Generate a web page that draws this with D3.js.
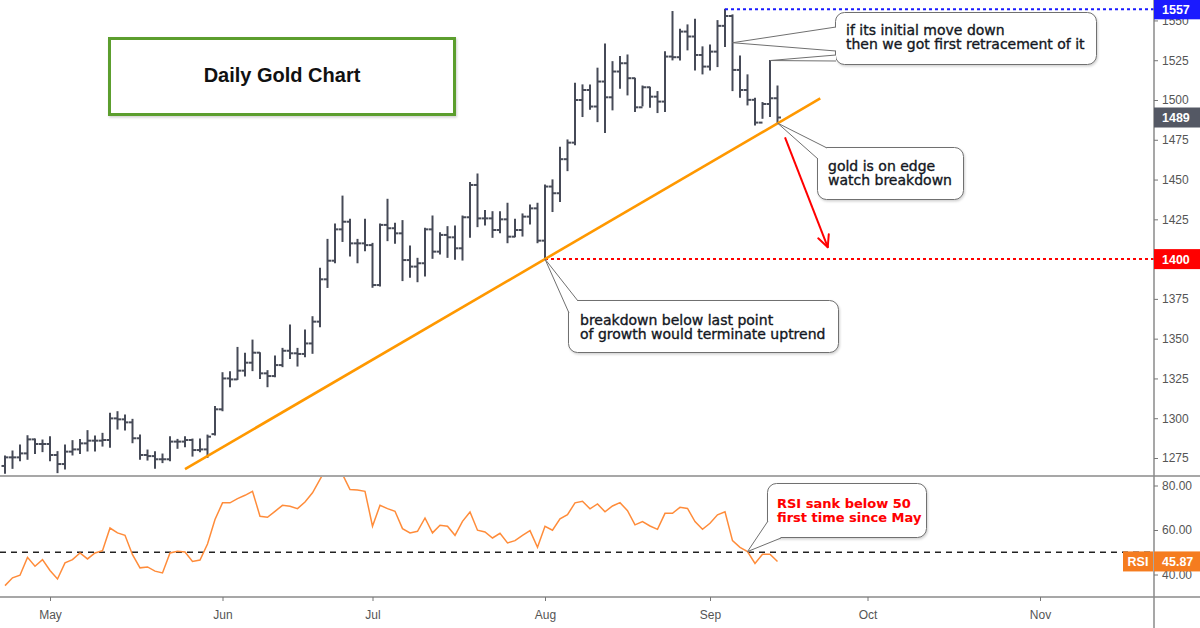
<!DOCTYPE html>
<html><head><meta charset="utf-8">
<script src="https://cdn.jsdelivr.net/npm/d3@7"></script>
<style>body{margin:0;background:#fff}svg{display:block}</style>
</head><body>
<svg id="c" width="1200" height="628"></svg>
<script>
// ---------- DATA ----------
const startDate = "2019-04-23"; // first trading day shown (weekdays)
const highs = [1276.2,1279.4,1283.2,1289.0,1286.9,1286.3,1288.4,1279.0,1283.2,1285.9,
1286.7,1292.2,1288.8,1290.5,1303.1,1304.1,1302.0,1299.3,1289.4,1280.0,
1279.0,1277.5,1288.4,1286.7,1288.4,1286.9,1286.9,1289.4,1307.3,1328.6,
1329.2,1344.5,1340.8,1349.1,1341.2,1329.9,1339.1,1343.9,1358.6,1343.9,
1355.4,1363.8,1394.2,1412.4,1422.0,1439.6,1425.0,1412.4,1425.0,1409.9,
1422.1,1437.6,1422.5,1424.2,1408.3,1400.5,1419.4,1427.1,1416.6,1420.4,
1420.8,1427.1,1448.1,1453.5,1430.5,1429.8,1429.8,1435.1,1425.0,1428.4,
1434.0,1435.1,1446.6,1449.8,1470.3,1474.9,1510.5,1509.5,1509.5,1520.0,
1535.2,1524.1,1527.3,1528.3,1513.7,1508.8,1508.0,1505.3,1530.4,1555.6,
1544.5,1547.2,1550.7,1533.4,1534.6,1549.9,1557.0,1553.5,1527.7,1515.8,
1501.1,1498.4,1524.8,1508.8];
const lows = [1265.4,1268.5,1273.3,1274.2,1277.9,1279.0,1273.3,1265.8,1268.1,1276.9,
1277.9,1279.4,1279.4,1282.5,1281.7,1293.2,1292.6,1284.6,1274.2,1273.7,
1268.5,1272.1,1273.3,1281.1,1282.1,1276.2,1279.0,1275.4,1289.4,1304.7,
1319.8,1324.4,1326.5,1329.9,1325.0,1319.8,1326.1,1332.4,1337.6,1332.8,
1338.7,1340.8,1357.5,1382.2,1397.7,1411.1,1402.0,1397.7,1405.3,1382.3,
1383.1,1411.6,1409.9,1386.5,1388.6,1385.8,1389.4,1400.5,1403.2,1401.1,
1399.9,1399.4,1413.7,1420.4,1421.5,1413.7,1416.6,1410.3,1414.1,1414.5,
1422.1,1410.3,1400.0,1429.9,1436.2,1455.6,1471.8,1489.6,1494.2,1486.4,
1479.5,1493.8,1507.4,1503.2,1492.7,1496.3,1495.4,1492.1,1492.7,1525.2,
1525.2,1531.5,1518.9,1516.4,1518.9,1521.0,1533.6,1505.9,1501.7,1496.9,
1484.3,1488.5,1489.6,1485.8];
const closes = [1275.4,1275.4,1277.9,1286.7,1283.8,1283.8,1276.9,1271.2,1279.0,1280.4,
1284.2,1285.9,1285.9,1286.3,1299.9,1299.3,1297.4,1287.4,1276.9,1276.2,
1274.2,1274.2,1285.3,1285.3,1286.3,1280.0,1280.4,1288.4,1305.6,1325.0,
1324.4,1329.9,1334.9,1341.2,1328.2,1326.5,1333.4,1342.4,1340.8,1340.4,
1347.0,1360.7,1387.3,1399.0,1418.7,1423.5,1409.9,1409.9,1408.8,1383.7,
1421.5,1419.4,1416.2,1399.4,1395.3,1397.4,1418.7,1404.7,1415.2,1413.7,
1406.8,1426.3,1446.6,1425.6,1425.6,1418.3,1425.0,1414.1,1418.3,1426.7,
1431.9,1411.6,1445.6,1441.4,1462.8,1473.2,1500.0,1506.3,1495.9,1511.6,
1501.7,1517.9,1523.1,1513.7,1495.4,1508.0,1502.1,1499.0,1527.3,1526.9,
1543.0,1539.9,1528.3,1521.0,1530.4,1546.6,1552.8,1518.9,1506.3,1500.1,
1485.8,1497.5,1501.1,1489.0];
const opens = [1270.0,1275.4,1275.4,1277.9,1286.7,1283.8,1283.8,1276.9,1271.2,1279.0,
1280.4,1284.2,1285.9,1285.9,1286.3,1299.9,1299.3,1297.4,1287.4,1276.9,
1276.2,1274.2,1274.2,1285.3,1285.3,1286.3,1280.0,1280.4,1290.0,1305.6,
1325.0,1324.4,1329.9,1334.9,1341.2,1328.2,1326.5,1333.4,1342.4,1340.8,
1340.4,1347.0,1360.7,1387.3,1399.0,1418.7,1423.5,1409.9,1409.9,1408.8,
1383.7,1421.5,1419.4,1416.2,1399.4,1395.3,1397.4,1418.7,1404.7,1415.2,
1413.7,1406.8,1426.3,1446.6,1425.6,1425.6,1418.3,1425.0,1414.1,1418.3,
1426.7,1431.9,1411.6,1445.6,1441.4,1462.8,1473.2,1500.0,1506.3,1495.9,
1511.6,1501.7,1517.9,1523.1,1513.7,1495.4,1508.0,1502.1,1499.0,1527.3,
1526.9,1543.0,1539.9,1528.3,1521.0,1530.4,1546.6,1552.8,1518.9,1506.3,
1500.1,1485.8,1497.5,1501.1];
const rsi = [35.0,38.5,39.7,47.7,43.7,46.7,41.8,38.0,45.2,46.7,
49.7,47.0,49.7,50.7,60.9,58.7,57.6,48.9,43.0,43.4,
41.5,40.7,49.7,50.4,50.1,45.9,46.5,53.7,64.7,72.2,
72.2,74.1,75.6,77.4,66.2,65.7,68.4,71.1,70.7,69.6,
72.6,76.7,82.7,89.0,88.0,85.0,78.2,78.0,77.4,61.7,
71.1,69.6,68.4,60.6,58.7,59.4,65.4,58.7,62.1,61.7,
57.6,63.9,68.1,59.9,59.1,56.4,58.5,54.2,55.2,57.6,
59.7,52.2,61.7,59.9,65.0,66.9,72.2,72.9,69.5,71.7,
68.2,70.8,72.3,68.7,62.3,63.8,61.8,60.3,67.5,67.5,
70.2,69.7,63.8,60.3,63.0,66.8,68.2,55.2,52.2,50.3,
45.0,49.1,49.1,45.87];
const priceTicks = [1275,1300,1325,1350,1375,1400,1425,1450,1475,1500,1525,1550];
const rsiTicks = [40,60,80];
const monthLabels = ["May","Jun","Jul","Aug","Sep","Oct","Nov"];
const trendLine = [[24,1268],[108.7,1501]];      // [bar index, price]
const arrowLine = [[104,1476.5],[109.7,1407.5]];
const levelLow = 1400, levelLowStart = 72;
const levelHigh = 1557, levelHighStart = 96;
const lastClose = 1489, lastRsi = 45.87, rsiMid = 50;
const titleText = "Daily Gold Chart";
const notes = [
  {lines:["if its initial move down","then we got first retracement of it"]},
  {lines:["gold is on edge","watch breakdown"]},
  {lines:["breakdown below last point","of growth would terminate uptrend"]},
  {lines:["RSI sank below 50","first time since May"]}
];

// ---------- SCALES ----------
const svg = d3.select("#c");
const AX = 1154, PTOP = 0, PBOT = 476, RTOP = 476, RBOT = 597;
const x = d3.scaleLinear().domain([0,153]).range([5, 5+7.5*153]);
const y = d3.scaleLinear().domain([1275,1500]).range([458,100]);
const yr = d3.scaleLinear().domain([40,80]).range([574.5,485.5]);

// trading days
const parse = d3.timeParse("%Y-%m-%d");
const days = d3.timeDays(parse(startDate), parse("2019-11-30")).filter(d=>d.getDay()!==0 && d.getDay()!==6);
const monthIdx = [];
days.forEach((d,i)=>{ if(i>0 && d.getMonth()!==days[i-1].getMonth()) monthIdx.push(i); });

const defs = svg.append("defs");
defs.append("clipPath").attr("id","cp").append("rect").attr("x",0).attr("y",PTOP).attr("width",AX).attr("height",PBOT-PTOP);
defs.append("clipPath").attr("id","cr").append("rect").attr("x",0).attr("y",RTOP+1).attr("width",AX).attr("height",RBOT-RTOP-1);
const sh = defs.append("filter").attr("id","sh").attr("x","-10%").attr("y","-10%").attr("width","130%").attr("height","140%");
sh.append("feDropShadow").attr("dx",1).attr("dy",1.5).attr("stdDeviation",1.2).attr("flood-color","#000").attr("flood-opacity",0.18);

const font = "'DejaVu Sans', Verdana, sans-serif";
const axFont = "'Liberation Sans', Arial, sans-serif";

// ---------- PRICE PANEL ----------
const gp = svg.append("g").attr("clip-path","url(#cp)");
const barColor = "#464a57";
const bars = gp.append("g").attr("stroke",barColor).attr("stroke-width",2);
highs.forEach((h,i)=>{
  const xi = x(i);
  bars.append("line").attr("x1",xi).attr("x2",xi).attr("y1",y(h)-0.5).attr("y2",y(lows[i])+0.5);
  bars.append("line").attr("x1",xi-3.5).attr("x2",xi).attr("y1",y(opens[i])).attr("y2",y(opens[i]));
  bars.append("line").attr("x1",xi).attr("x2",xi+3.5).attr("y1",y(closes[i])).attr("y2",y(closes[i]));
});

// level lines
gp.append("line").attr("x1",x(levelLowStart)).attr("x2",AX).attr("y1",y(levelLow)).attr("y2",y(levelLow))
  .attr("stroke","#ff0000").attr("stroke-width",2).attr("stroke-dasharray","3,3");
gp.append("line").attr("x1",x(levelHighStart)).attr("x2",AX).attr("y1",y(levelHigh)).attr("y2",y(levelHigh))
  .attr("stroke","#1a1aff").attr("stroke-width",2).attr("stroke-dasharray","3,3");

// trend line
gp.append("path").datum(trendLine).attr("d",d3.line().x(d=>x(d[0])).y(d=>y(d[1])))
  .attr("stroke","#ff9800").attr("stroke-width",2.6).attr("fill","none");

// red arrow
const a0 = [x(arrowLine[0][0]), y(arrowLine[0][1])], a1 = [x(arrowLine[1][0]), y(arrowLine[1][1])];
gp.append("line").attr("x1",a0[0]).attr("y1",a0[1]).attr("x2",a1[0]).attr("y2",a1[1]).attr("stroke","#ff0000").attr("stroke-width",2);
const ang = Math.atan2(a1[1]-a0[1], a1[0]-a0[0]);
[0.45,-0.45].forEach(da=>{
  gp.append("line").attr("x1",a1[0]).attr("y1",a1[1])
    .attr("x2",a1[0]-13*Math.cos(ang+da)).attr("y2",a1[1]-13*Math.sin(ang+da))
    .attr("stroke","#ff0000").attr("stroke-width",2).attr("stroke-linecap","round");
});

// ---------- RSI PANEL ----------
const gr = svg.append("g").attr("clip-path","url(#cr)");
gr.append("line").attr("x1",0).attr("x2",AX).attr("y1",yr(rsiMid)).attr("y2",yr(rsiMid))
  .attr("stroke","#222").attr("stroke-width",1.5).attr("stroke-dasharray","6,5");
gr.append("path").datum(rsi).attr("d",d3.line().x((d,i)=>x(i)).y(d=>yr(d)))
  .attr("stroke","#ff8c3a").attr("stroke-width",1.5).attr("fill","none");

// ---------- FRAME ----------
svg.append("line").attr("x1",0).attr("x2",1200).attr("y1",PBOT).attr("y2",PBOT).attr("stroke","#8a8a8a").attr("stroke-width",1.5);
svg.append("line").attr("x1",0).attr("x2",1200).attr("y1",RBOT).attr("y2",RBOT).attr("stroke","#8a8a8a").attr("stroke-width",1.5);
svg.append("line").attr("x1",AX).attr("x2",AX).attr("y1",0).attr("y2",628).attr("stroke","#8a8a8a").attr("stroke-width",1.5);

function styleAxis(g){
  g.select(".domain").remove();
  g.selectAll(".tick line").attr("stroke","#777");
  g.selectAll(".tick text").attr("fill","#555").attr("font-family",axFont).attr("font-size",12);
}
svg.append("g").attr("transform",`translate(${AX},0)`)
  .call(d3.axisRight(y).tickValues(priceTicks).tickSize(4).tickPadding(4).tickFormat(d3.format("d"))).call(styleAxis);
svg.append("g").attr("transform",`translate(${AX},0)`)
  .call(d3.axisRight(yr).tickValues(rsiTicks).tickSize(4).tickPadding(4).tickFormat(d3.format(".2f"))).call(styleAxis);
svg.append("g").attr("transform",`translate(0,${RBOT})`)
  .call(d3.axisBottom(x).tickValues(monthIdx.slice(0,monthLabels.length)).tickSize(4).tickPadding(9).tickFormat((d,i)=>monthLabels[i])).call(styleAxis);

// right-side labels
function tag(yv, fill, text, x0=AX, w=1200-AX){
  svg.append("rect").attr("x",x0).attr("y",yv-10).attr("width",w).attr("height",20).attr("fill",fill);
  svg.append("text").attr("x",x0+ (x0===AX?8:w/2)).attr("y",yv+4.5).attr("fill","#fff")
    .attr("font-family",axFont).attr("font-size",12.5).attr("font-weight","bold")
    .attr("text-anchor", x0===AX?"start":"middle").text(text);
}
tag(y(levelHigh), "#1a1aff", String(levelHigh));
tag(y(lastClose), "#545864", String(lastClose));
tag(y(levelLow), "#ff0000", String(levelLow));
tag(yr(lastRsi), "#f57c1f", lastRsi.toFixed(2));
tag(yr(lastRsi), "#f57c1f", "RSI", 1123, 30);

// ---------- TITLE ----------
svg.append("rect").attr("x",109.5).attr("y",38.5).attr("width",345).attr("height",76)
  .attr("fill","#fff").attr("stroke","#5c9e2e").attr("stroke-width",3).attr("filter","url(#sh)");
svg.append("text").attr("x",282).attr("y",82).attr("text-anchor","middle")
  .attr("font-family",axFont).attr("font-weight","bold").attr("font-size",20).attr("fill","#111").text(titleText);

// ---------- CALLOUTS ----------
function callout(box, wedges, lines, opt){
  const g = svg.append("g");
  g.append("rect").attr("x",box[0]+0.5).attr("y",box[1]+0.5).attr("width",box[2]).attr("height",box[3])
    .attr("rx",9).attr("fill","#fff").attr("stroke","#707070").attr("stroke-width",1).attr("filter","url(#sh)");
  wedges.forEach(w=>{
    g.append("path").attr("d",d3.line()(w)).attr("fill","#fff").attr("stroke","none");
    g.append("path").attr("d",d3.line()(w)).attr("fill","none").attr("stroke","#707070").attr("stroke-width",1);
  });
  const c = opt.color||"#131722";
  lines.forEach((t,i)=>{
    g.append("text").attr("x",opt.tx).attr("y",opt.ty+i*opt.lh).attr("font-family",font)
      .attr("font-size",opt.fs).attr("font-weight",opt.fw||"normal").attr("fill",c)
      .attr("stroke",c).attr("stroke-width",opt.sw||0.35).text(t);
  });
}
const p1 = [x(97), y(1536)], p2 = [x(102), y(1524.8)], p3 = [x(103), y(1485.5)], p4 = [x(72), y(1400)], p5 = [x(99), yr(50.3)];
callout([835,12,261,52], [[[836,27],p1,[836,51]],[[836,55],p2,[836,61]]], notes[0].lines, {tx:846,ty:35,lh:14,fs:14});
callout([817,147,146,52], [[[827,148],p3,[818,159]]], notes[1].lines, {tx:828,ty:171,lh:14,fs:14});
callout([568,300,270,52], [[[578,301],p4,[569,313]]], notes[2].lines, {tx:580,ty:325,lh:14,fs:14});
callout([767,483,159,54], [[[768,521],p5,[781,538]]], notes[3].lines, {tx:777,ty:508,lh:14,fs:13,fw:"bold",color:"#ff0000",sw:0.1});
</script>
</body></html>
